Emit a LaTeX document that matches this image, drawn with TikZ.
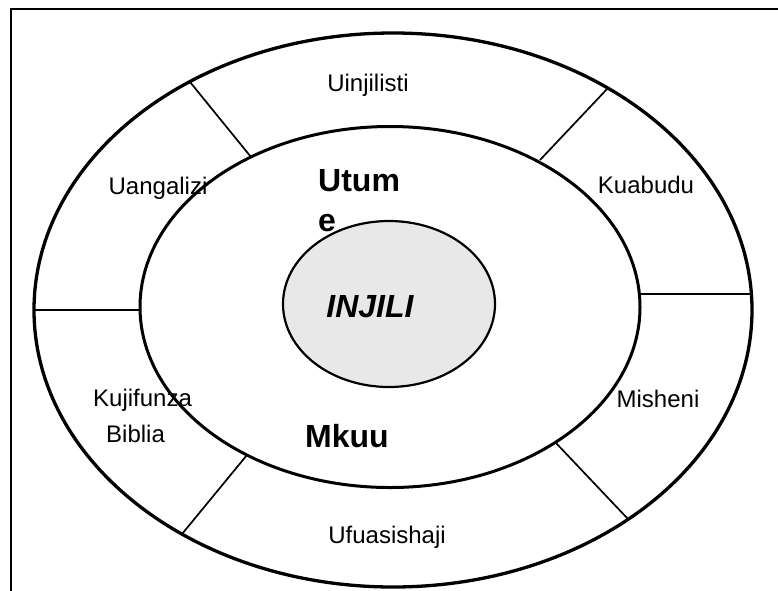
\documentclass[tikz,border=0pt]{standalone}
\usepackage{fontspec}
\setmainfont{Liberation Sans}
\usepackage{tikz}
\usetikzlibrary{math}
\usetikzlibrary{shapes.geometric}
\definecolor{corefill}{HTML}{E8E8E8}

\begin{document}
\begin{tikzpicture}[x=1pt, y=-1pt,
  ring/.style={draw, ellipse, inner sep=0pt},
  divider/.style={line width=1.7pt},
  ringtext/.style={font=\fontsize{24}{36}\selectfont, inner sep=0pt},
  heading/.style={font=\fontsize{32}{40}\selectfont\bfseries, inner sep=0pt}]
  \useasboundingbox (0, 0) rectangle (778, 590);

  % frame
  \draw [line width=1.6pt] (790, 9) -- (11, 9) -- (11, 600);

  % rings
  \node [ring, line width=3.3pt, minimum width=718pt, minimum height=554pt] (outer) at (393, 310) {};
  \node [ring, line width=3pt, minimum width=500pt, minimum height=361pt] (inner) at (390, 307) {};

  \foreach \n/\ox/\oy/\ix/\iy in {1/190/82/251/157, 2/608/88/540/160, 3/34/310/140/310,
                                  4/752/294/640/294, 5/182/534/247/455, 6/628/519/556/443} {
    \coordinate (out\n) at (\ox, \oy);
    \coordinate (in\n) at (\ix, \iy);
    \draw [divider] (out\n) -- (in\n);
  }

  \node [ring, line width=2.2pt, fill=corefill, minimum width=212pt, minimum height=166pt] (core) at (389, 304) {};

  % labels in the outer ring
  \node [ringtext, anchor=base] (uinjilisti) at (368, 91) {Uinjilisti};
  \node [ringtext, anchor=base] (kuabudu) at (646, 193) {Kuabudu};
  \node [ringtext, anchor=base] (uangalizi) at (158, 194) {Uangalizi};
  \node [ringtext, anchor=base] (misheni) at (658, 407) {Misheni};
  \node [ringtext, anchor=north west, align=left] (kujifunza) at (93, 388.5) {Kujifunza\\\hspace*{13pt}Biblia};
  \node [ringtext, anchor=base] (ufuasishaji) at (387, 543) {Ufuasishaji};

  % middle ring and core
  \node [heading, anchor=north west, align=left] (utume) at (318, 169) {Utum\\e};
  \node [heading, anchor=base] (mkuu) at (347, 447) {Mkuu};
  \node [heading, anchor=base, font=\fontsize{32}{40}\selectfont\bfseries\itshape] (injili) at (370, 317) {INJILI};
\end{tikzpicture}
\end{document}
